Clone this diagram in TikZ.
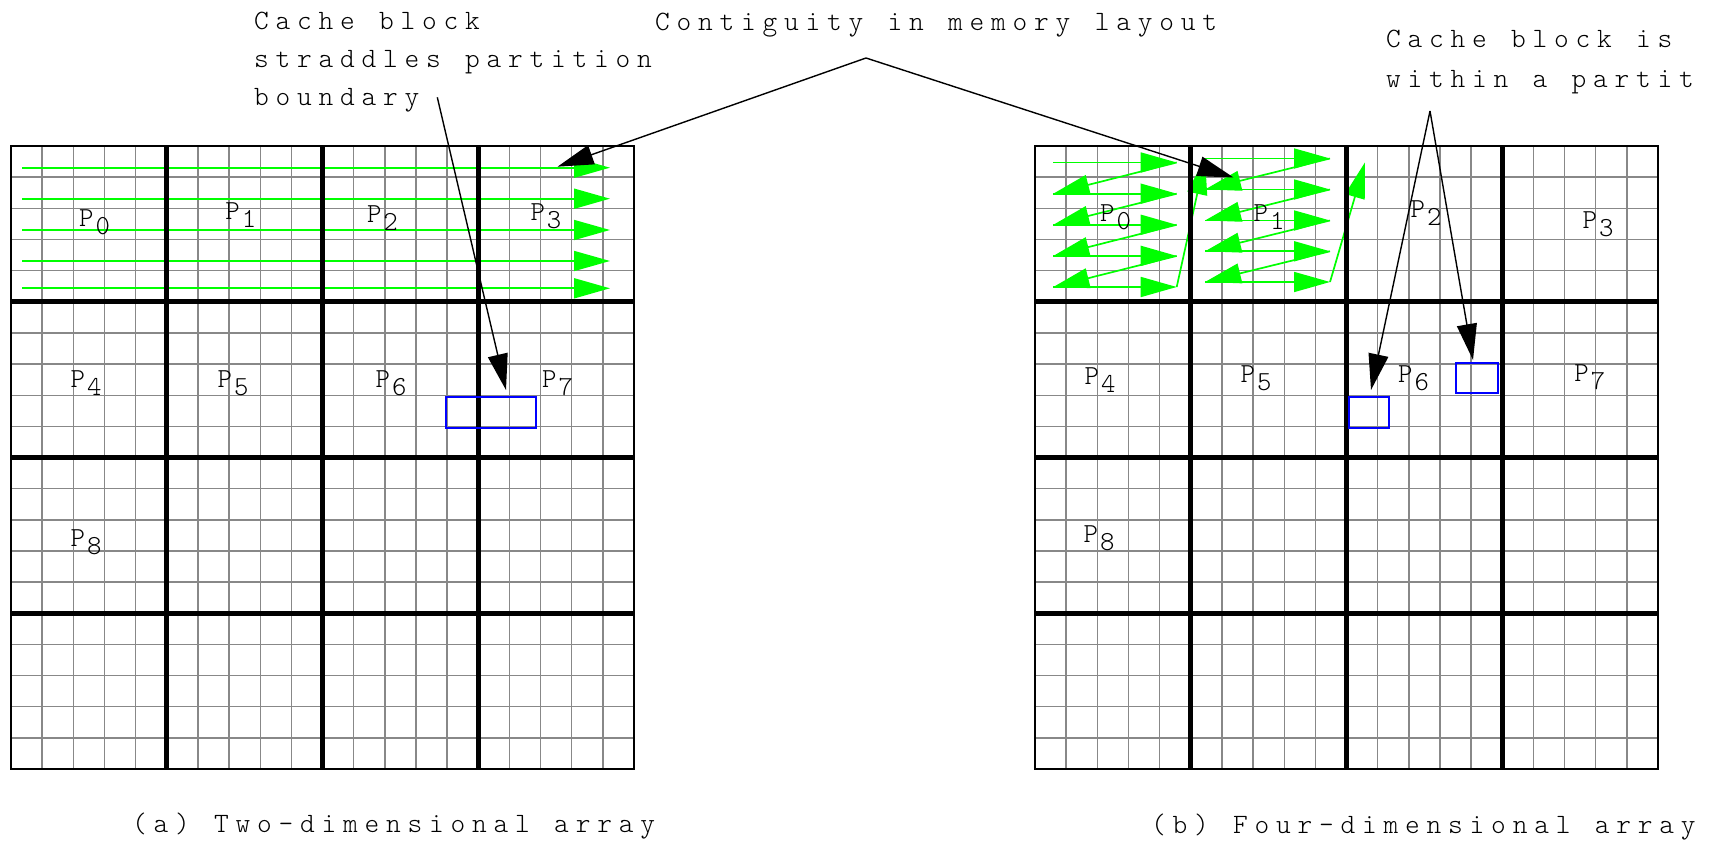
\documentclass[tikz,border=0pt]{standalone}
\usepackage{fontspec}
\usetikzlibrary{arrows.meta}
\newfontfamily\notefont{lmmonolt10-regular.otf}[LetterSpace=24.3,WordSpace=1.13]
\newfontfamily\partfont{lmmonolt10-regular.otf}
\definecolor{flowgreen}{RGB}{0,255,0}
\definecolor{cellgray}{RGB}{136,136,136}
\definecolor{blockblue}{RGB}{0,0,255}
\begin{document}
\begin{tikzpicture}[x=1pt,y=-1pt,
  cellline/.style={draw=cellgray,line width=1.4pt},
  partline/.style={draw=black,line width=5.4pt},
  framebox/.style={draw=black,line width=1.7pt},
  flow/.style={draw=flowgreen,line width=1.7pt,-{Triangle[length=36pt,width=20pt]}},
  pointer/.style={draw=black,line width=1.4pt,-{Triangle[length=36pt,width=20pt]}},
  cacheblk/.style={draw=blockblue,line width=1.5pt},
  note/.style={font=\notefont\fontsize{28}{33}\selectfont,inner sep=0pt,anchor=base west},
  plab/.style={font=\partfont\fontsize{27.5}{30}\selectfont,inner sep=0pt,anchor=base west},
]
\fill[white] (0,0) rectangle (1721,842);
\useasboundingbox (0,0) rectangle (1721,842);
\def\cell{31.15}

% fine cell lines of both arrays
\foreach \gx in {11,1035} {
  \foreach \i in {1,...,19} {
    \draw[cellline] ({\gx+\i*\cell},146) -- ({\gx+\i*\cell},769);
    \draw[cellline] (\gx,{146+\i*\cell}) -- ({\gx+20*\cell},{146+\i*\cell});
  }
}

% row-major traversal of the two-dimensional array
\foreach \y in {167.7,198.7,230,261,288.3}
  \draw[flow] (22,\y) -- (610,\y);

% block-wise traversal of the four-dimensional array
\foreach \y in {162.5,193.7,224.8,255.9,287}
  \draw[flow] (1053.3,\y) -- (1176.7,\y);
\foreach \ya/\yb in {162.5/193.7,193.7/224.8,224.8/255.9,255.9/287}
  \draw[flow] (1176.7,\ya) -- (1053.3,\yb);
\draw[flow] (1176.7,287) -- (1205,158.5);
\foreach \y in {158.5,189.5,220.5,251.3,282}
  \draw[flow] (1205,\y) -- (1330,\y);
\foreach \ya/\yb in {158.5/189.5,189.5/220.5,220.5/251.3,251.3/282}
  \draw[flow] (1330,\ya) -- (1205,\yb);
\draw[flow] (1330,282) -- (1365,162.3);

% partition boundaries and outer frames
\foreach \gx in {11,1035} {
  \foreach \i in {5,10,15} {
    \draw[partline] ({\gx+\i*\cell},146) -- ({\gx+\i*\cell},769);
    \draw[partline] (\gx,{146+\i*\cell}) -- ({\gx+20*\cell},{146+\i*\cell});
  }
  \draw[framebox] (\gx,146) rectangle ({\gx+20*\cell},769);
}

% cache blocks
\draw[cacheblk] (446,397) rectangle (536,428);
\draw[cacheblk] (1349,397) rectangle (1389,428);
\draw[cacheblk] (1456,363) rectangle (1498,393);

% partition labels
\foreach \nm/\cx/\cy/\d in {
  a0/86.5/218.5/0, a1/232.7/210.7/1, a2/374.3/214/2, a3/537.8/212.5/3,
  a4/77.9/378.7/4, a5/225/378.7/5, a6/383/378.7/6, a7/549.5/378.7/7,
  a8/77.9/537.8/8,
  b0/1107.5/213/0, b1/1261/213.5/1, b2/1418/209/2, b3/1590/220/3,
  b4/1092/376.2/4, b5/1248/374/5, b6/1405.5/374.5/6, b7/1581.6/373.2/7,
  b8/1091/534.5/8}
  \node[plab] (p\nm) at ({\cx-7.5},{\cy+8.4}) {P\kern2pt\lower8pt\hbox{\d}};

% annotations
\node[note] (cb1) at (254,30) {Cache block};
\node[note] (cb2) at (254,68) {straddles partition};
\node[note] (cb3) at (254,106) {boundary};
\node[note] (contig) at (655,31) {Contiguity in memory layout};
\node[note] (wi1) at (1386,47.5) {Cache block is};
\node[note] (wi2) at (1386,87.5) {within a partit};
\node[note] (capa) at (132,832) {(a) Two-dimensional array};
\node[note] (capb) at (1151,833.5) {(b) Four-dimensional array};

% pointers
\coordinate (contigapex) at (866,58);
\coordinate (contigtipa) at (557.5,166.7);
\coordinate (contigtipb) at (1233.5,177.5);
\draw[pointer] (contigapex) -- (contigtipa);
\draw[pointer] (contigapex) -- (contigtipb);
\coordinate (strfoot) at (437.3,97.3);
\coordinate (strtip) at (506,390);
\draw[pointer] (strfoot) -- (strtip);
\coordinate (wiapex) at (1430,111);
\coordinate (witipa) at (1371,390);
\coordinate (witipb) at (1473,360);
\draw[pointer] (wiapex) -- (witipa);
\draw[pointer] (wiapex) -- (witipb);
\end{tikzpicture}
\end{document}
